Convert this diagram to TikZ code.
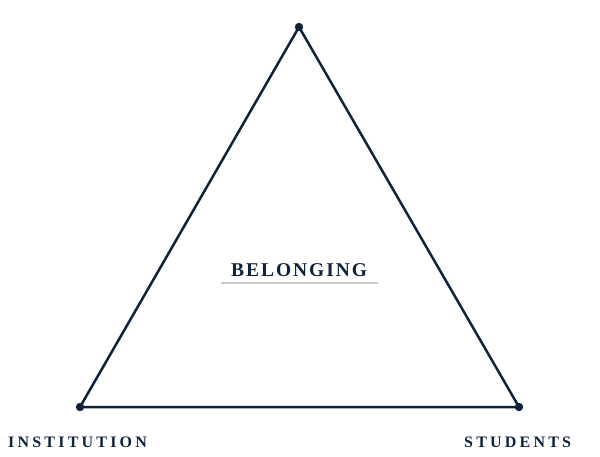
\documentclass[tikz,border=0pt]{standalone}
\usepackage{fontspec}
\setmainfont{Liberation Serif}
\usepackage{tikz}
\definecolor{navy}{RGB}{14,34,60}
\definecolor{rule}{RGB}{200,205,210}
\newfontfamily\titlefont[LetterSpace=10]{Liberation Serif}
\newfontfamily\capsfont[LetterSpace=20]{Liberation Serif}

\begin{document}
\begin{tikzpicture}[x=1pt,y=-1pt]
\useasboundingbox (0,0) rectangle (600,456);
\coordinate (top) at (299,27);
\coordinate (inst) at (80,407);
\coordinate (stud) at (519,407);

\draw [navy, line width=2.5pt, line join=round] (top)--(inst)--(stud)--cycle;
\fill [navy] (top) circle (4.2) (inst) circle (4.2) (stud) circle (4.2);

\node [anchor=base west, navy, inner sep=0] (bel) at (231,276) {\titlefont\fontsize{19.5}{19.5}\selectfont\bfseries BELONGING};
\draw [rule, line width=1.8pt] (221,283)--(378,283);
\node [anchor=base west, navy, inner sep=0] (inlab) at (8,447) {\capsfont\fontsize{16}{16}\selectfont\bfseries INSTITUTION};
\node [anchor=base west, navy, inner sep=0] (stlab) at (464,447) {\capsfont\fontsize{16}{16}\selectfont\bfseries STUDENTS};

\end{tikzpicture}
\end{document}
